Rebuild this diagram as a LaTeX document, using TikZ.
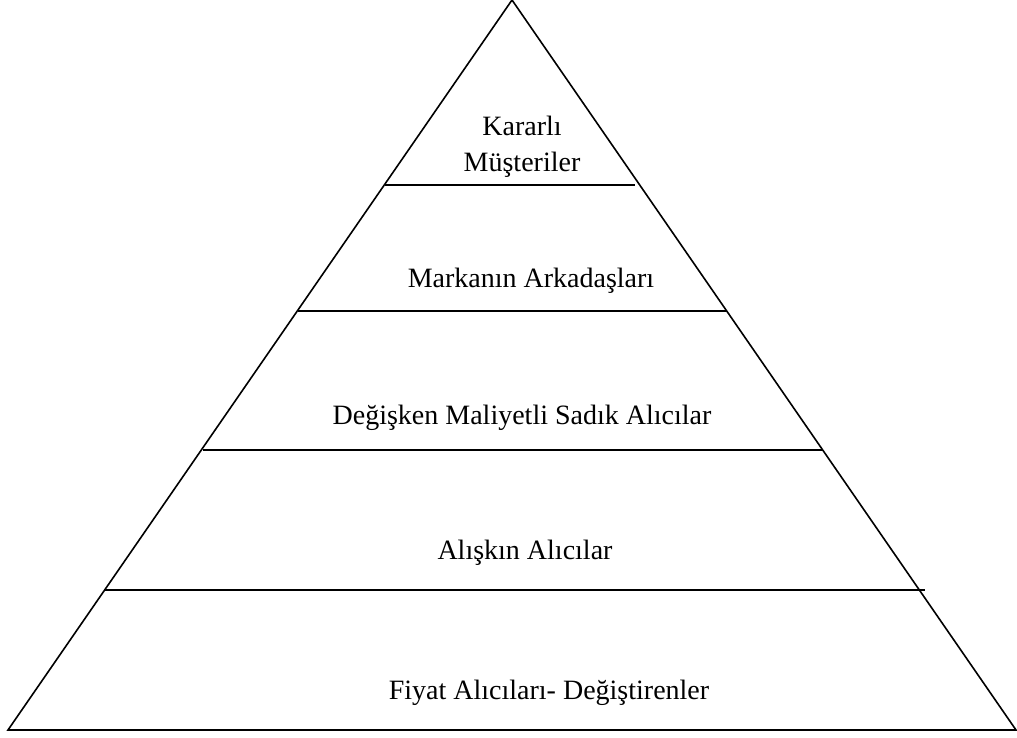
\documentclass[tikz,border=0pt]{standalone}
\usepackage{fontspec}
\setmainfont{Liberation Serif}
\usepackage{tikz}

\begin{document}
\begin{tikzpicture}[x=1pt,y=1pt,line width=1.6pt,
		layer/.style={font=\fontsize{28}{36}\selectfont,align=center,inner sep=0pt}]
	\useasboundingbox (0,0) rectangle (1017,737);
	% pyramid corners
	\coordinate (top) at (512,737);
	\coordinate (left) at (8,7);
	\coordinate (right) at (1016,7);
	\draw (left) -- (top) -- (right) -- cycle;

	% layer borders
	\coordinate (l1a) at (385,552); \coordinate (l1b) at (635,552);
	\coordinate (l2a) at (298,426); \coordinate (l2b) at (727,426);
	\coordinate (l3a) at (203,287); \coordinate (l3b) at (822,287);
	\coordinate (l4a) at (105,147); \coordinate (l4b) at (925,147);
	\draw (l1a) -- (l1b);
	\draw (l2a) -- (l2b);
	\draw (l3a) -- (l3b);
	\draw (l4a) -- (l4b);

	\node (kararli) [layer] at (522,590) {Kararlı\\Müşteriler};
	\node (arkadas) [layer] at (531,456) {Markanın Arkadaşları};
	\node (degisken) [layer] at (522,319) {Değişken Maliyetli Sadık Alıcılar};
	\node (aliskin) [layer] at (525,184) {Alışkın Alıcılar};
	\node (fiyat) [layer] at (549,44) {Fiyat Alıcıları- Değiştirenler};
\end{tikzpicture}
\end{document}
